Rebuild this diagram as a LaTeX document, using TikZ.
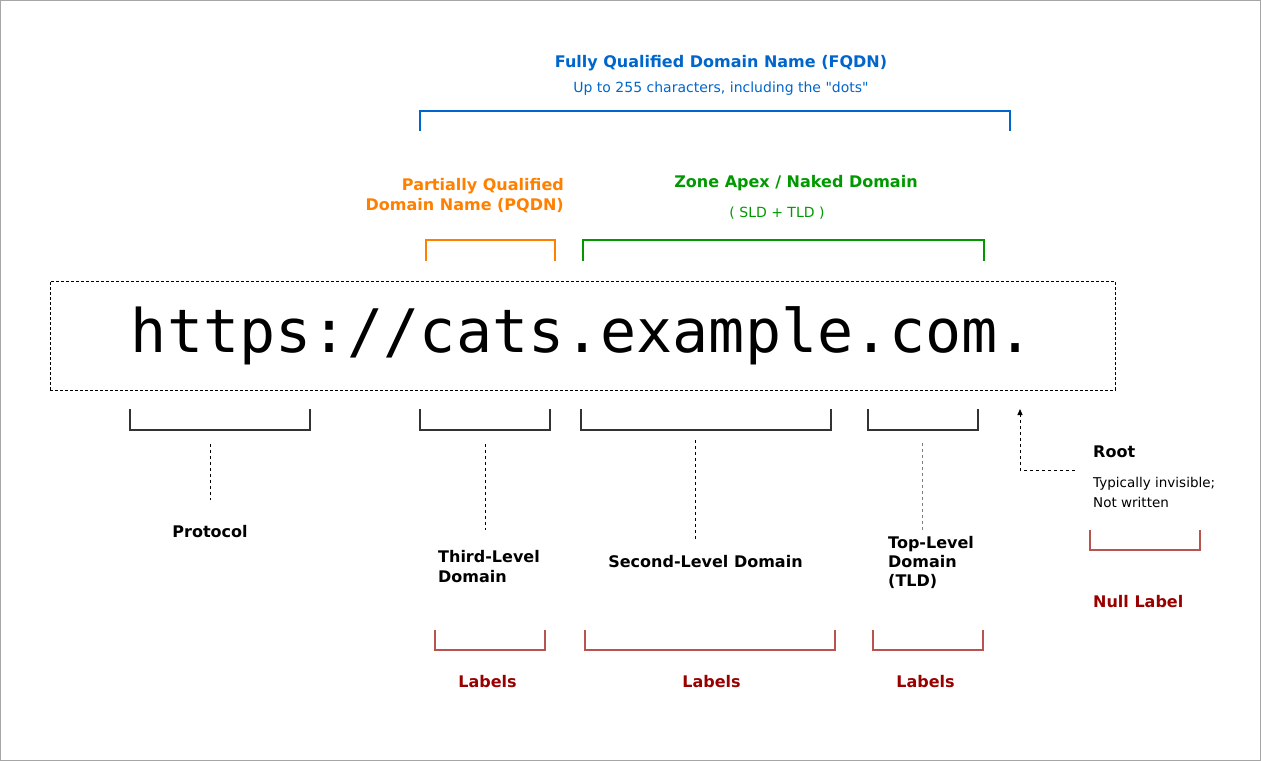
\documentclass[tikz,border=0pt]{standalone}
\usepackage{fontspec}
\setmainfont{DejaVu Sans}[Ligatures=TeXOff]
\setmonofont{DejaVu Sans Mono}
\usetikzlibrary{arrows.meta}
\definecolor{fqdnblue}{HTML}{0066CC}
\definecolor{pqdnorange}{HTML}{FF8000}
\definecolor{apexgreen}{HTML}{009900}
\definecolor{lblred}{HTML}{990000}
\definecolor{brred}{HTML}{B85450}
\definecolor{brblack}{HTML}{333333}
\begin{document}
\begin{tikzpicture}[x=1pt,y=-1pt,
  boldtxt/.style={font=\fontsize{16}{20}\selectfont\bfseries, inner sep=0pt},
  smalltxt/.style={font=\fontsize{14}{20}\selectfont, inner sep=0pt},
  notetxt/.style={font=\fontsize{13.5}{20}\selectfont, inner sep=0pt},
  brk/.style={line width=2pt, line join=miter},
  guide/.style={line width=1pt, dash pattern=on 3pt off 3pt},
  urlbox/.style={draw, line width=1pt, dash pattern=on 3pt off 2pt,
    minimum width=1065pt, minimum height=109pt, inner sep=0pt,
    font=\ttfamily\fontsize{60}{60}\selectfont}]
\useasboundingbox (0,0) rectangle (1261,761);
\draw[gray!70, line width=1pt] (0.5,0.5) rectangle (1260.5,760.5);

% FQDN
\node[boldtxt, fqdnblue, anchor=base] (fqdn) at (721,67) {Fully Qualified Domain Name (FQDN)};
\node[smalltxt, fqdnblue, anchor=base] (fqdnsub) at (721,92) {Up to 255 characters, including the "dots"};
\draw[brk, fqdnblue] (420,131) -- (420,111) -- (1010,111) -- (1010,131);

% PQDN
\node[boldtxt, pqdnorange, align=right, anchor=north east] (pqdn) at (564,178) {Partially Qualified\\Domain Name (PQDN)};
\draw[brk, pqdnorange] (426,261) -- (426,240) -- (555,240) -- (555,261);

% Zone apex
\node[boldtxt, apexgreen, anchor=base] (apex) at (796,187) {Zone Apex / Naked Domain};
\node[smalltxt, apexgreen, anchor=base] (apexsub) at (777,217) {( SLD + TLD )};
\draw[brk, apexgreen] (583,261) -- (583,240) -- (984,240) -- (984,261);

% URL
\node[urlbox] (url) at (582.5,335.5) {https://cats.example.com.};

% black brackets
\draw[brk, brblack] (130,409) -- (130,430) -- (310,430) -- (310,409);
\draw[brk, brblack] (420,409) -- (420,430) -- (550,430) -- (550,409);
\draw[brk, brblack] (581,409) -- (581,430) -- (831,430) -- (831,409);
\draw[brk, brblack] (868,409) -- (868,430) -- (978,430) -- (978,409);

% component labels
\node[boldtxt, anchor=base] (proto) at (210,537) {Protocol};
\node[boldtxt, align=left, anchor=north west] (third) at (438,550) {Third-Level\\Domain};
\node[boldtxt, anchor=base] (second) at (705.5,567) {Second-Level Domain};
\node[boldtxt, align=left, anchor=north west, font=\fontsize{16}{19}\selectfont\bfseries] (tld) at (888,536) {Top-Level\\Domain\\(TLD)};

\coordinate (protoA) at (210,444); \coordinate (protoB) at (210,500);
\coordinate (thirdA) at (485,444); \coordinate (thirdB) at (485,530);
\coordinate (secondA) at (695,440); \coordinate (secondB) at (695,540);
\coordinate (tldA) at (922,443); \coordinate (tldB) at (922,530);
\draw[guide] (protoA) -- (protoB);
\draw[guide] (thirdA) -- (thirdB);
\draw[guide] (secondA) -- (secondB);
\draw[guide, gray] (tldA) -- (tldB);

% root
\node[boldtxt, anchor=base west] (root) at (1093,457) {Root};
\node[notetxt, align=left, anchor=north west] (rootnote) at (1093,477.5) {Typically invisible;\\Not written};
\coordinate (rootS) at (1075,470);
\coordinate (rootC) at (1020,470);
\coordinate (rootT) at (1020,409);
\draw[guide, -{Triangle[length=6pt,width=5pt]}] (rootS) -- (rootC) -- (rootT);

% red label brackets
\draw[brk, brred] (435,630) -- (435,650) -- (545,650) -- (545,630);
\draw[brk, brred] (585,630) -- (585,650) -- (835,650) -- (835,630);
\draw[brk, brred] (873,630) -- (873,650) -- (983,650) -- (983,630);
\draw[brk, brred] (1090,530) -- (1090,550) -- (1200,550) -- (1200,530);

\node[boldtxt, lblred, anchor=base] (lab1) at (487.5,687) {Labels};
\node[boldtxt, lblred, anchor=base] (lab2) at (711.5,687) {Labels};
\node[boldtxt, lblred, anchor=base] (lab3) at (925.5,687) {Labels};
\node[boldtxt, lblred, anchor=base west] (nulllab) at (1093,607) {Null Label};
\end{tikzpicture}
\end{document}
